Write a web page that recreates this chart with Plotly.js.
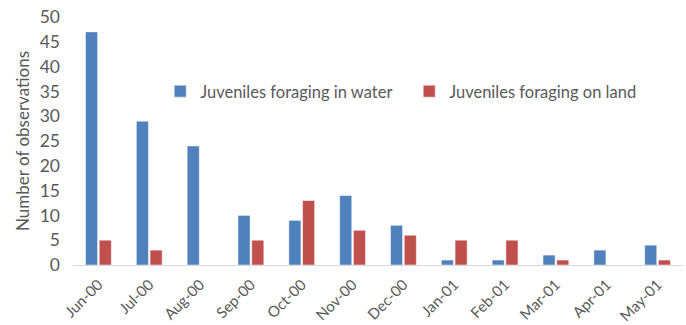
<!DOCTYPE html>
<html>
<head>
<meta charset="utf-8">
<script src="https://cdn.plot.ly/plotly-3.0.1.min.js"></script>
<style>
  html, body { margin: 0; padding: 0; background: #fff; }
  #chart { width: 686px; height: 325px; }
</style>
</head>
<body>
<div id="chart"></div>
<script>
// Monthly observation counts of juvenile foraging behaviour
const months = ["Jun-00", "Jul-00", "Aug-00", "Sep-00", "Oct-00", "Nov-00",
                "Dec-00", "Jan-01", "Feb-01", "Mar-01", "Apr-01", "May-01"];
const inWater = [47, 29, 24, 10, 9, 14, 8, 1, 1, 2, 3, 4];
const onLand  = [5, 3, 0, 5, 13, 7, 6, 5, 5, 1, 0, 1];
const yTicks = [0, 5, 10, 15, 20, 25, 30, 35, 40, 45, 50];

const textColor = "#595959";
const fontFamily = "Lato, 'Open Sans', sans-serif";

const traces = [
  {
    type: "bar",
    name: "Juveniles foraging in water",
    x: months,
    y: inWater,
    marker: { color: "#4f81bd", line: { color: "#ffffff", width: 0.5 } }
  },
  {
    type: "bar",
    name: "Juveniles foraging on land",
    x: months,
    y: onLand,
    marker: { color: "#c0504d", line: { color: "#ffffff", width: 0.5 } }
  }
];

const layout = {
  width: 686,
  height: 325,
  margin: { l: 73, r: 3, t: 17, b: 60 },
  paper_bgcolor: "#ffffff",
  plot_bgcolor: "#ffffff",
  font: { family: fontFamily, color: textColor, size: 17 },
  barmode: "group",
  bargap: 0.46,
  bargroupgap: 0.12,
  showlegend: true,
  legend: {
    orientation: "h",
    x: 0.143,
    y: 0.70,
    xanchor: "left",
    yanchor: "middle",
    font: { size: 16.5, color: textColor },
    itemwidth: 30,
    entrywidth: 204,
    entrywidthmode: "pixels",
    bgcolor: "rgba(0,0,0,0)"
  },
  xaxis: {
    type: "category",
    tickangle: -45,
    tickfont: { size: 15, color: textColor },
    ticklabelstandoff: 4,
    showgrid: false,
    showline: true,
    linecolor: "#d9d9d9",
    linewidth: 1,
    ticks: "",
    zeroline: false
  },
  yaxis: {
    range: [0, 50],
    tickvals: yTicks,
    ticktext: yTicks.map(String),
    tickfont: { size: 17.5, color: textColor },
    ticklabelstandoff: 12,
    showgrid: false,
    zeroline: false,
    showline: false,
    ticks: "",
    ticklen: 0,
    title: { text: "Number of observations", font: { size: 17, color: textColor }, standoff: 5 }
  }
};

Plotly.newPlot("chart", traces, layout, { displayModeBar: false, staticPlot: true });
</script>
</body>
</html>
